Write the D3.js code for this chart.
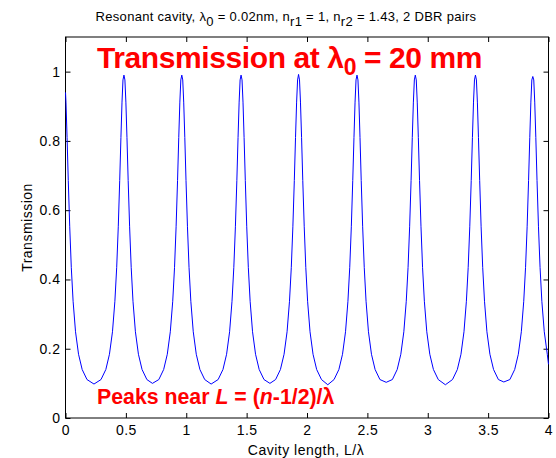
<!DOCTYPE html>
<html><head><meta charset="utf-8">
<script src="https://cdn.jsdelivr.net/npm/d3@7"></script>
<style>body{margin:0;background:#fff}svg{display:block;font-family:"Liberation Sans",Arial,Helvetica,sans-serif}</style>
</head><body>
<svg id="c" width="556" height="458"></svg>
<script>
// Cavity length L/λ (x) and transmission (y)
const cavityLength = [
  0, 0.004, 0.013, 0.023, 0.035, 0.048, 0.063, 0.083, 0.108, 0.138, 0.178, 0.236,
  0.294, 0.334, 0.364, 0.389, 0.409, 0.424, 0.437, 0.449, 0.459, 0.468, 0.476, 0.484, 0.492, 0.500, 0.509, 0.519, 0.531, 0.544, 0.559, 0.579, 0.604, 0.634, 0.674, 0.720,
  0.773, 0.813, 0.843, 0.868, 0.888, 0.903, 0.916, 0.928, 0.938, 0.947, 0.955, 0.963, 0.971, 0.979, 0.988, 0.998, 1.010, 1.023, 1.038, 1.058, 1.083, 1.113, 1.153, 1.206,
  1.264, 1.304, 1.334, 1.359, 1.379, 1.394, 1.407, 1.419, 1.429, 1.438, 1.446, 1.454, 1.462, 1.470, 1.479, 1.489, 1.501, 1.514, 1.529, 1.549, 1.574, 1.604, 1.644, 1.693,
  1.740, 1.780, 1.810, 1.835, 1.855, 1.870, 1.883, 1.895, 1.905, 1.914, 1.922, 1.930, 1.938, 1.946, 1.955, 1.965, 1.977, 1.990, 2.005, 2.025, 2.050, 2.080, 2.120, 2.172,
  2.224, 2.264, 2.294, 2.319, 2.339, 2.354, 2.367, 2.379, 2.389, 2.398, 2.406, 2.414, 2.422, 2.430, 2.439, 2.449, 2.461, 2.474, 2.489, 2.509, 2.534, 2.564, 2.604, 2.656,
  2.707, 2.747, 2.777, 2.802, 2.822, 2.837, 2.850, 2.862, 2.872, 2.881, 2.889, 2.897, 2.905, 2.913, 2.922, 2.932, 2.944, 2.957, 2.972, 2.992, 3.017, 3.047, 3.087, 3.146,
  3.205, 3.245, 3.275, 3.300, 3.320, 3.335, 3.348, 3.360, 3.370, 3.379, 3.387, 3.395, 3.403, 3.411, 3.420, 3.430, 3.442, 3.455, 3.470, 3.490, 3.515, 3.545, 3.585, 3.630,
  3.680, 3.720, 3.750, 3.775, 3.795, 3.810, 3.823, 3.835, 3.845, 3.854, 3.862, 3.870, 3.878, 3.886, 3.895, 3.905, 3.917, 3.930, 3.945, 3.965, 3.990, 4.000
];
const transmission = [
  0.940, 0.912, 0.810, 0.686, 0.552, 0.435, 0.337, 0.249, 0.184, 0.140, 0.111, 0.098,
  0.111, 0.140, 0.184, 0.249, 0.337, 0.435, 0.552, 0.686, 0.810, 0.912, 0.976, 0.990, 0.976, 0.912, 0.810, 0.686, 0.552, 0.435, 0.337, 0.249, 0.184, 0.140, 0.111, 0.100,
  0.111, 0.140, 0.184, 0.249, 0.337, 0.435, 0.552, 0.686, 0.810, 0.912, 0.976, 0.990, 0.976, 0.912, 0.810, 0.686, 0.552, 0.435, 0.337, 0.249, 0.184, 0.140, 0.111, 0.098,
  0.111, 0.140, 0.184, 0.249, 0.337, 0.435, 0.552, 0.686, 0.810, 0.912, 0.976, 0.990, 0.976, 0.912, 0.810, 0.686, 0.552, 0.435, 0.337, 0.249, 0.184, 0.140, 0.111, 0.100,
  0.111, 0.140, 0.184, 0.249, 0.337, 0.435, 0.552, 0.686, 0.810, 0.912, 0.976, 0.992, 0.976, 0.912, 0.810, 0.686, 0.552, 0.435, 0.337, 0.249, 0.184, 0.140, 0.111, 0.096,
  0.111, 0.140, 0.184, 0.249, 0.337, 0.435, 0.552, 0.686, 0.810, 0.912, 0.976, 0.990, 0.976, 0.912, 0.810, 0.686, 0.552, 0.435, 0.337, 0.249, 0.184, 0.140, 0.111, 0.103,
  0.111, 0.140, 0.184, 0.249, 0.337, 0.435, 0.552, 0.686, 0.810, 0.912, 0.976, 0.990, 0.976, 0.912, 0.810, 0.686, 0.552, 0.435, 0.337, 0.249, 0.184, 0.140, 0.111, 0.096,
  0.111, 0.140, 0.184, 0.249, 0.337, 0.435, 0.552, 0.686, 0.810, 0.912, 0.976, 0.990, 0.976, 0.912, 0.810, 0.686, 0.552, 0.435, 0.337, 0.249, 0.184, 0.140, 0.111, 0.104,
  0.111, 0.140, 0.184, 0.249, 0.337, 0.435, 0.552, 0.686, 0.810, 0.912, 0.976, 0.986, 0.976, 0.912, 0.810, 0.686, 0.552, 0.435, 0.337, 0.249, 0.184, 0.155
];
const xTicks = [0, 0.5, 1, 1.5, 2, 2.5, 3, 3.5, 4];
const xTickLabels = ["0", "0.5", "1", "1.5", "2", "2.5", "3", "3.5", "4"];
const yTicks = [0, 0.2, 0.4, 0.6, 0.8, 1];
const yTickLabels = ["0", "0.2", "0.4", "0.6", "0.8", "1"];

(function () {
const svg = d3.select("#c");
const mLeft = 65.5, mRight = 548.5, mTop = 37, mBottom = 418;
const x = d3.scaleLinear().domain([0, 4]).range([mLeft, mRight]);
const y = d3.scaleLinear().domain([0, 1.1]).range([mBottom, mTop]);

const axisColor = "#000";
const fontSize = 14;
const spacing = "0.5px";

function styleAxis(g) {
  g.selectAll(".domain").remove();
  g.selectAll(".tick line").attr("stroke", axisColor);
  g.selectAll(".tick text").attr("fill", "#000").style("font-size", fontSize + "px")
    .style("letter-spacing", spacing)
    .style("font-family", '"Liberation Sans",Arial,sans-serif');
}

svg.append("g").attr("transform", `translate(0,${mBottom})`)
  .call(d3.axisBottom(x).tickValues(xTicks).tickSize(-5).tickPadding(7)
    .tickFormat((d, i) => xTickLabels[i])).call(styleAxis);
svg.append("g").attr("transform", `translate(0,${mTop})`)
  .call(d3.axisTop(x).tickValues(xTicks).tickSize(-5).tickFormat("")).call(styleAxis);
svg.append("g").attr("transform", `translate(${mLeft},0)`)
  .call(d3.axisLeft(y).tickValues(yTicks).tickSize(-5).tickPadding(5)
    .tickFormat((d, i) => yTickLabels[i])).call(styleAxis);
svg.append("g").attr("transform", `translate(${mRight},0)`)
  .call(d3.axisRight(y).tickValues(yTicks).tickSize(-5).tickFormat("")).call(styleAxis);

svg.append("rect").attr("x", mLeft).attr("y", mTop)
  .attr("width", mRight - mLeft).attr("height", mBottom - mTop)
  .attr("fill", "none").attr("stroke", axisColor).attr("stroke-width", 1);

const pts = cavityLength.map((v, i) => [v, transmission[i]]);
svg.append("path").datum(pts)
  .attr("fill", "none").attr("stroke", "#0000ff").attr("stroke-width", 1)
  .attr("d", d3.line().x(d => x(d[0])).y(d => y(d[1])));

svg.append("text").attr("x", 306).attr("y", 455)
  .attr("text-anchor", "middle").style("font-size", fontSize + "px")
  .style("letter-spacing", spacing).text("Cavity length, L/λ");
svg.append("text").attr("transform", `translate(32,${(mTop + mBottom) / 2}) rotate(-90)`)
  .attr("text-anchor", "middle").style("font-size", fontSize + "px")
  .style("letter-spacing", spacing).text("Transmission");

const t = svg.append("text").attr("x", 286).attr("y", 21).attr("text-anchor", "middle")
  .style("font-size", "13px").style("letter-spacing", "0.3px");
t.append("tspan").text("Resonant cavity, λ");
t.append("tspan").attr("dy", 5).text("0");
t.append("tspan").attr("dy", -5).text(" = 0.02nm, n");
t.append("tspan").attr("dy", 5).text("r1");
t.append("tspan").attr("dy", -5).text(" = 1, n");
t.append("tspan").attr("dy", 5).text("r2");
t.append("tspan").attr("dy", -5).text(" = 1.43, 2 DBR pairs");

const big = svg.append("text").attr("x", 97).attr("y", 68).attr("fill", "#ff0000")
  .style("font-size", "30px").style("font-weight", "bold").style("letter-spacing", "-0.4px");
big.append("tspan").text("Transmission at λ");
big.append("tspan").attr("dy", 7).style("font-size", "23px").text("0");
big.append("tspan").attr("dy", -7).text(" = 20 mm");

const pk = svg.append("text").attr("x", 97).attr("y", 404).attr("fill", "#ff0000")
  .style("font-size", "21.3px").style("font-weight", "bold");
pk.append("tspan").text("Peaks near ");
pk.append("tspan").style("font-style", "italic").text("L");
pk.append("tspan").text(" = (");
pk.append("tspan").style("font-style", "italic").text("n");
pk.append("tspan").text("-1/2)/λ");
})();
</script>
</body></html>
